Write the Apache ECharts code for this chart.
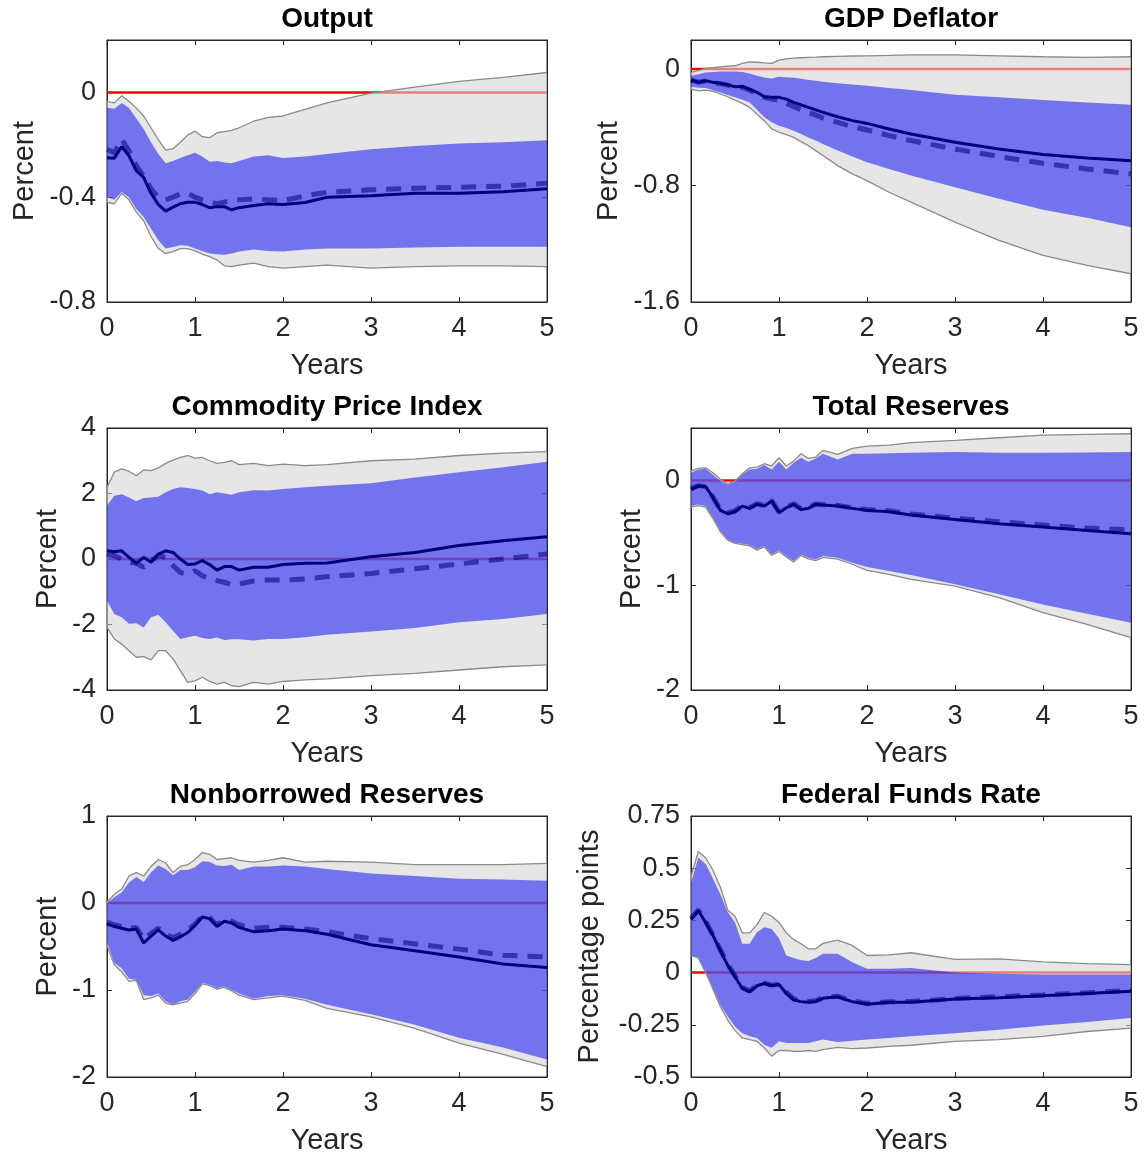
<!DOCTYPE html>
<html>
<head>
<meta charset="utf-8">
<script src="https://cdn.jsdelivr.net/npm/echarts@6/dist/echarts.min.js"></script>
<style>
  body { margin: 0; background: #fff; }
  #chart { width: 1146px; height: 1156px; }
</style>
</head>
<body>
<div id="chart"></div>
<script>
// horizon in months (x axis is shown in years)
const months = [0,1,2,3,4,5,6,7,8,9,10,11,12,13,14,15,16,17,18,20,22,24,27,30,36,42,48,54,60];
const yearTicks = [0, 1, 2, 3, 4, 5];

// Output
const outputGreyHi = [-0.034,-0.04,-0.013,-0.034,-0.06,-0.09,-0.135,-0.18,-0.22,-0.215,-0.19,-0.163,-0.148,-0.169,-0.173,-0.154,-0.15,-0.145,-0.135,-0.11,-0.095,-0.09,-0.065,-0.04,-0.003,0.02,0.042,0.057,0.076];
const outputBlueHi = [-0.059,-0.062,-0.04,-0.06,-0.1,-0.14,-0.19,-0.235,-0.27,-0.262,-0.25,-0.24,-0.23,-0.245,-0.265,-0.262,-0.268,-0.27,-0.262,-0.245,-0.24,-0.25,-0.245,-0.235,-0.217,-0.205,-0.195,-0.19,-0.183];
const outputBlueLo = [-0.40,-0.41,-0.38,-0.40,-0.445,-0.476,-0.52,-0.564,-0.596,-0.59,-0.583,-0.585,-0.596,-0.605,-0.615,-0.618,-0.62,-0.615,-0.607,-0.60,-0.605,-0.607,-0.60,-0.596,-0.596,-0.592,-0.589,-0.589,-0.589];
const outputGreyLo = [-0.42,-0.425,-0.385,-0.41,-0.457,-0.49,-0.55,-0.596,-0.615,-0.608,-0.596,-0.596,-0.605,-0.617,-0.627,-0.64,-0.662,-0.665,-0.659,-0.652,-0.665,-0.671,-0.665,-0.659,-0.671,-0.665,-0.662,-0.662,-0.665];
const outputSolid = [-0.249,-0.251,-0.207,-0.242,-0.299,-0.324,-0.385,-0.428,-0.453,-0.438,-0.425,-0.419,-0.419,-0.428,-0.44,-0.436,-0.436,-0.448,-0.44,-0.432,-0.425,-0.428,-0.42,-0.40,-0.394,-0.385,-0.385,-0.379,-0.368];
const outputDashed = [-0.217,-0.23,-0.179,-0.223,-0.28,-0.318,-0.368,-0.40,-0.41,-0.40,-0.387,-0.385,-0.40,-0.41,-0.419,-0.425,-0.419,-0.413,-0.41,-0.406,-0.41,-0.413,-0.395,-0.381,-0.372,-0.366,-0.362,-0.358,-0.347];
const outputTicks = [-0.8, -0.4, 0];

// GDP Deflator
const gdpGreyHi = [-0.023,-0.011,0.005,0.01,0.016,0.02,0.023,0.04,0.05,0.047,0.043,0.04,0.062,0.07,0.075,0.078,0.08,0.082,0.085,0.088,0.09,0.091,0.094,0.098,0.098,0.091,0.085,0.08,0.085];
const gdpBlueHi = [-0.046,-0.035,-0.023,-0.02,-0.016,-0.016,-0.016,-0.02,-0.03,-0.045,-0.057,-0.064,-0.053,-0.056,-0.06,-0.067,-0.074,-0.08,-0.087,-0.097,-0.106,-0.114,-0.13,-0.144,-0.176,-0.194,-0.213,-0.229,-0.245];
const gdpBlueLo = [-0.121,-0.128,-0.13,-0.145,-0.16,-0.178,-0.194,-0.21,-0.229,-0.28,-0.331,-0.365,-0.389,-0.405,-0.423,-0.446,-0.469,-0.49,-0.514,-0.56,-0.601,-0.64,-0.686,-0.731,-0.811,-0.891,-0.967,-1.022,-1.086];
const gdpGreyLo = [-0.137,-0.149,-0.144,-0.153,-0.171,-0.19,-0.213,-0.235,-0.263,-0.31,-0.354,-0.411,-0.434,-0.45,-0.469,-0.498,-0.526,-0.56,-0.594,-0.663,-0.72,-0.766,-0.846,-0.914,-1.051,-1.177,-1.28,-1.349,-1.406];
const gdpSolid = [-0.075,-0.091,-0.08,-0.091,-0.098,-0.107,-0.121,-0.119,-0.137,-0.16,-0.19,-0.194,-0.194,-0.206,-0.229,-0.246,-0.263,-0.28,-0.297,-0.327,-0.354,-0.373,-0.411,-0.446,-0.503,-0.549,-0.587,-0.61,-0.629];
const gdpDashed = [-0.075,-0.09,-0.082,-0.092,-0.1,-0.11,-0.124,-0.124,-0.145,-0.17,-0.194,-0.205,-0.213,-0.235,-0.258,-0.278,-0.297,-0.316,-0.336,-0.366,-0.395,-0.418,-0.457,-0.491,-0.549,-0.601,-0.647,-0.686,-0.72];
const gdpTicks = [-1.6, -0.8, 0];

// Commodity Price Index
const cpiGreyHi = [2.19,2.65,2.75,2.68,2.54,2.72,2.7,2.78,2.92,3.02,3.1,3.16,3.08,3.1,3.0,2.92,2.95,3.0,2.88,2.92,2.85,2.9,2.85,2.88,3.0,3.05,3.16,3.23,3.28];
const cpiBlueHi = [1.63,1.93,1.98,1.88,1.76,1.86,1.88,1.9,2.04,2.14,2.19,2.17,2.14,2.09,1.98,2.04,2.0,1.96,2.04,2.1,2.09,2.14,2.19,2.24,2.31,2.49,2.65,2.8,2.97];
const cpiBlueLo = [-1.27,-1.68,-1.78,-1.98,-1.96,-2.09,-1.78,-1.7,-1.93,-2.19,-2.44,-2.39,-2.34,-2.41,-2.44,-2.4,-2.47,-2.45,-2.45,-2.49,-2.44,-2.44,-2.39,-2.31,-2.21,-2.11,-1.93,-1.83,-1.68];
const cpiGreyLo = [-2.09,-2.44,-2.6,-2.8,-3.0,-2.98,-3.08,-2.8,-2.8,-3.05,-3.41,-3.77,-3.72,-3.61,-3.74,-3.82,-3.77,-3.87,-3.9,-3.77,-3.82,-3.74,-3.69,-3.66,-3.56,-3.49,-3.39,-3.29,-3.23];
const cpiSolid = [0.25,0.22,0.25,0.05,-0.13,0.05,-0.1,0.15,0.25,0.2,0,-0.17,-0.15,-0.05,-0.17,-0.34,-0.23,-0.23,-0.34,-0.25,-0.25,-0.17,-0.13,-0.12,0.07,0.2,0.41,0.56,0.68];
const cpiDashed = [0.15,0.1,0,-0.1,-0.13,-0.25,-0.05,0.1,0.05,-0.2,-0.41,-0.46,-0.36,-0.51,-0.61,-0.66,-0.71,-0.78,-0.76,-0.67,-0.64,-0.64,-0.61,-0.54,-0.44,-0.3,-0.15,0,0.15];
const cpiTicks = [-4, -2, 0, 2, 4];

// Total Reserves
const trGreyHi = [0.09,0.114,0.12,0.073,0.01,-0.032,-0.006,0.064,0.12,0.127,0.159,0.137,0.216,0.137,0.184,0.254,0.21,0.223,0.286,0.248,0.305,0.328,0.337,0.36,0.382,0.407,0.432,0.439,0.445];
const trBlueHi = [0.073,0.105,0.11,0.055,-0.006,-0.038,-0.013,0.057,0.105,0.11,0.146,0.105,0.178,0.105,0.168,0.216,0.178,0.21,0.254,0.2,0.254,0.254,0.258,0.264,0.27,0.264,0.264,0.267,0.27];
const trBlueLo = [-0.245,-0.229,-0.245,-0.356,-0.483,-0.563,-0.595,-0.604,-0.617,-0.658,-0.626,-0.706,-0.668,-0.722,-0.769,-0.706,-0.738,-0.754,-0.722,-0.738,-0.785,-0.827,-0.865,-0.903,-0.992,-1.087,-1.183,-1.272,-1.358];
const trGreyLo = [-0.255,-0.24,-0.255,-0.365,-0.49,-0.57,-0.6,-0.612,-0.625,-0.665,-0.635,-0.715,-0.678,-0.73,-0.778,-0.715,-0.748,-0.765,-0.735,-0.752,-0.8,-0.859,-0.897,-0.944,-1.008,-1.119,-1.262,-1.374,-1.5];
const trSolid = [-0.086,-0.054,-0.06,-0.165,-0.286,-0.318,-0.299,-0.245,-0.267,-0.229,-0.245,-0.197,-0.308,-0.261,-0.229,-0.277,-0.267,-0.229,-0.235,-0.245,-0.267,-0.286,-0.299,-0.331,-0.372,-0.413,-0.445,-0.477,-0.509];
const trDashed = [-0.08,-0.05,-0.058,-0.16,-0.28,-0.31,-0.29,-0.24,-0.26,-0.222,-0.24,-0.19,-0.3,-0.255,-0.222,-0.27,-0.26,-0.225,-0.23,-0.24,-0.26,-0.278,-0.29,-0.32,-0.36,-0.395,-0.425,-0.455,-0.47];
const trTicks = [-2, -1, 0];

// Nonborrowed Reserves
const nbrGreyHi = [0.008,0.1,0.16,0.31,0.35,0.31,0.42,0.5,0.46,0.35,0.42,0.44,0.5,0.58,0.56,0.5,0.51,0.52,0.49,0.47,0.49,0.52,0.47,0.48,0.47,0.44,0.44,0.44,0.456];
const nbrBlueHi = [0.0,0.065,0.12,0.235,0.3,0.24,0.35,0.43,0.39,0.32,0.38,0.38,0.41,0.48,0.47,0.43,0.425,0.44,0.38,0.42,0.42,0.43,0.42,0.39,0.34,0.31,0.28,0.27,0.255];
const nbrBlueLo = [-0.45,-0.69,-0.75,-0.87,-0.885,-1.06,-1.07,-1.04,-1.13,-1.17,-1.13,-1.11,-1.02,-0.92,-0.94,-0.98,-0.96,-1.0,-1.04,-1.1,-1.07,-1.06,-1.1,-1.17,-1.28,-1.4,-1.55,-1.66,-1.8];
const nbrGreyLo = [-0.49,-0.71,-0.79,-0.9,-0.89,-1.11,-1.09,-1.06,-1.15,-1.17,-1.15,-1.13,-1.04,-0.93,-0.95,-0.99,-0.97,-1.01,-1.06,-1.11,-1.09,-1.07,-1.12,-1.21,-1.31,-1.44,-1.61,-1.74,-1.88];
const nbrSolid = [-0.24,-0.27,-0.29,-0.31,-0.3,-0.46,-0.38,-0.31,-0.38,-0.43,-0.39,-0.34,-0.26,-0.16,-0.18,-0.27,-0.21,-0.23,-0.28,-0.33,-0.32,-0.3,-0.32,-0.36,-0.48,-0.55,-0.62,-0.7,-0.74];
const nbrDashed = [-0.22,-0.25,-0.27,-0.29,-0.28,-0.42,-0.35,-0.29,-0.36,-0.4,-0.36,-0.31,-0.24,-0.15,-0.17,-0.25,-0.2,-0.21,-0.25,-0.29,-0.28,-0.28,-0.3,-0.33,-0.41,-0.47,-0.53,-0.6,-0.62];
const nbrTicks = [-2, -1, 0, 1];

// Federal Funds Rate
const ffGreyHi = [0.46,0.58,0.55,0.49,0.41,0.30,0.27,0.19,0.19,0.23,0.288,0.27,0.24,0.19,0.158,0.138,0.114,0.114,0.14,0.155,0.13,0.082,0.085,0.095,0.063,0.066,0.051,0.043,0.038];
const ffBlueHi = [0.43,0.55,0.52,0.45,0.375,0.29,0.24,0.138,0.138,0.193,0.217,0.209,0.165,0.082,0.07,0.059,0.055,0.07,0.09,0.09,0.05,0.019,0.019,0.022,0,-0.005,-0.009,-0.009,-0.009];
const ffBlueLo = [0.082,0.07,0.003,-0.076,-0.155,-0.21,-0.258,-0.29,-0.305,-0.313,-0.345,-0.36,-0.329,-0.337,-0.337,-0.337,-0.337,-0.329,-0.321,-0.332,-0.326,-0.321,-0.313,-0.305,-0.29,-0.274,-0.253,-0.237,-0.218];
const ffGreyLo = [0.082,0.07,0,-0.08,-0.163,-0.226,-0.278,-0.313,-0.321,-0.329,-0.361,-0.4,-0.373,-0.373,-0.377,-0.377,-0.373,-0.377,-0.369,-0.358,-0.364,-0.361,-0.353,-0.348,-0.329,-0.321,-0.305,-0.282,-0.266];
const ffSolid = [0.256,0.296,0.24,0.177,0.106,0.035,-0.02,-0.076,-0.092,-0.063,-0.052,-0.063,-0.057,-0.1,-0.131,-0.139,-0.142,-0.139,-0.123,-0.116,-0.139,-0.152,-0.142,-0.142,-0.127,-0.12,-0.111,-0.1,-0.089];
const ffDashed = [0.26,0.3,0.245,0.18,0.11,0.04,-0.015,-0.07,-0.088,-0.06,-0.05,-0.06,-0.055,-0.095,-0.126,-0.135,-0.138,-0.135,-0.12,-0.113,-0.135,-0.148,-0.14,-0.138,-0.124,-0.115,-0.107,-0.097,-0.085];
const ffTicks = [-0.5, -0.25, 0, 0.25, 0.5, 0.75];

const panels = [
  { title: 'Output', yName: 'Percent', ticks: outputTicks, yMax: 0.2, col: 0, row: 0, nameGap: 68,
    greyHi: outputGreyHi, blueHi: outputBlueHi, blueLo: outputBlueLo, greyLo: outputGreyLo, solid: outputSolid, dashed: outputDashed },
  { title: 'GDP Deflator', yName: 'Percent', ticks: gdpTicks, yMax: 0.2, col: 1, row: 0, nameGap: 68,
    greyHi: gdpGreyHi, blueHi: gdpBlueHi, blueLo: gdpBlueLo, greyLo: gdpGreyLo, solid: gdpSolid, dashed: gdpDashed },
  { title: 'Commodity Price Index', yName: 'Percent', ticks: cpiTicks, yMax: 4, col: 0, row: 1, nameGap: 45,
    greyHi: cpiGreyHi, blueHi: cpiBlueHi, blueLo: cpiBlueLo, greyLo: cpiGreyLo, solid: cpiSolid, dashed: cpiDashed },
  { title: 'Total Reserves', yName: 'Percent', ticks: trTicks, yMax: 0.5, col: 1, row: 1, nameGap: 45,
    greyHi: trGreyHi, blueHi: trBlueHi, blueLo: trBlueLo, greyLo: trGreyLo, solid: trSolid, dashed: trDashed },
  { title: 'Nonborrowed Reserves', yName: 'Percent', ticks: nbrTicks, yMax: 1, col: 0, row: 2, nameGap: 45,
    greyHi: nbrGreyHi, blueHi: nbrBlueHi, blueLo: nbrBlueLo, greyLo: nbrGreyLo, solid: nbrSolid, dashed: nbrDashed },
  { title: 'Federal Funds Rate', yName: 'Percentage points', ticks: ffTicks, yMax: 0.75, col: 1, row: 2, nameGap: 87,
    greyHi: ffGreyHi, blueHi: ffBlueHi, blueLo: ffBlueLo, greyLo: ffGreyLo, solid: ffSolid, dashed: ffDashed }
];

const font = 'Liberation Sans, Arial, Helvetica, sans-serif';
const ink = '#262626';
const lefts = [107, 691];
const tops = [40, 428, 816];

function toPoints(values) {
  return months.map((m, k) => [m / 12, values[k]]);
}

// shaded band between lo and hi, drawn as one polygon through the axis scales
function bandSeries(axis, lo, hi, fill) {
  return {
    type: 'custom', xAxisIndex: axis, yAxisIndex: axis, silent: true, z: 2,
    data: months.map((m, k) => [m / 12, lo[k], hi[k]]),
    renderItem: (params, api) => {
      if (params.dataIndex !== 0) return null;
      const upper = months.map((m, k) => api.coord([m / 12, hi[k]]));
      const lower = months.map((m, k) => api.coord([m / 12, lo[k]])).reverse();
      return { type: 'polygon', shape: { points: upper.concat(lower) }, style: { fill: fill } };
    }
  };
}

function lineSeries(axis, values, lineStyle, z) {
  return {
    type: 'line', xAxisIndex: axis, yAxisIndex: axis, data: toPoints(values),
    symbol: 'none', silent: true, z: z, lineStyle: lineStyle
  };
}

const grid = [], xAxis = [], yAxis = [], title = [], series = [];

panels.forEach((p, i) => {
  const left = lefts[p.col], top = tops[p.row];
  grid.push({ left: left, top: top, width: 440, height: 262, show: true, borderColor: ink, borderWidth: 1 });
  title.push({
    text: p.title, left: left + 220, top: top - 35, textAlign: 'center', padding: 0,
    textStyle: { fontSize: 28, fontWeight: 'bold', color: '#000', fontFamily: font }
  });

  const tickStyle = { inside: true, length: 5, lineStyle: { color: ink } };
  const axisLine = { show: true, onZero: false, lineStyle: { color: ink, width: 1 } };
  xAxis.push({
    gridIndex: i, type: 'value', position: 'bottom', min: 0, max: 5, interval: 1,
    name: 'Years', nameLocation: 'middle', nameGap: 49,
    nameTextStyle: { fontSize: 29, color: ink, fontFamily: font },
    axisLine: axisLine, axisTick: tickStyle, splitLine: { show: false },
    axisLabel: { fontSize: 27, color: ink, margin: 13, fontFamily: font,
      formatter: v => yearTicks.includes(v) ? String(v) : '' }
  });
  xAxis.push({
    gridIndex: i, type: 'value', position: 'top', min: 0, max: 5, interval: 1,
    axisLine: axisLine, axisTick: tickStyle, axisLabel: { show: false }, splitLine: { show: false }
  });

  const yLabel = v => p.ticks.some(t => Math.abs(t - v) < 1e-9) ? String(Number(v.toFixed(2))) : '';
  const interval = p.ticks[1] - p.ticks[0];
  yAxis.push({
    gridIndex: i, type: 'value', position: 'left', min: p.ticks[0], max: p.yMax, interval: interval,
    name: p.yName, nameLocation: 'middle', nameGap: p.nameGap,
    nameTextStyle: { fontSize: 29, color: ink, fontFamily: font },
    axisLine: axisLine, axisTick: tickStyle, splitLine: { show: false },
    axisLabel: { fontSize: 27, color: ink, margin: 11, fontFamily: font, formatter: yLabel }
  });
  yAxis.push({
    gridIndex: i, type: 'value', position: 'right', min: p.ticks[0], max: p.yMax, interval: interval,
    axisLine: axisLine, axisTick: tickStyle, axisLabel: { show: false }, splitLine: { show: false }
  });

  const ax = 2 * i;
  // zero line sits under the bands
  series.push(lineSeries(ax, months.map(() => 0), { color: '#ff0000', width: 2.5 }, 1));
  series.push(bandSeries(ax, p.greyLo, p.greyHi, 'rgba(214,214,214,0.6)'));
  series.push(bandSeries(ax, p.blueLo, p.blueHi, 'rgba(0,0,245,0.5)'));
  series.push(lineSeries(ax, p.greyLo, { color: '#8a8a8a', width: 1.3 }, 3));
  series.push(lineSeries(ax, p.greyHi, { color: '#8a8a8a', width: 1.3 }, 3));
  series.push(lineSeries(ax, p.solid, { color: '#00007a', width: 3 }, 3));
  series.push(lineSeries(ax, p.dashed, { color: 'rgba(0,0,128,0.55)', width: 5, type: [15, 10] }, 3));
});

const myChart = echarts.init(document.querySelector('#chart'));
myChart.setOption({
  animation: false,
  backgroundColor: '#fff',
  textStyle: { fontFamily: font },
  title: title,
  grid: grid,
  xAxis: xAxis,
  yAxis: yAxis,
  series: series
});
</script>
</body>
</html>
